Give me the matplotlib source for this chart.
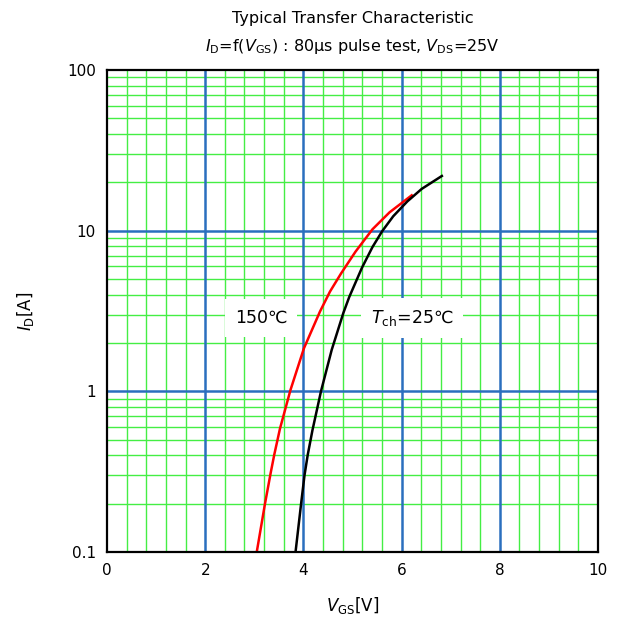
import numpy as np
import matplotlib
matplotlib.use("Agg")
import matplotlib.pyplot as plt

# data
vgs_25 = [3.84, 3.955, 4.023, 4.088, 4.185, 4.358, 4.576, 4.813, 4.933, 5.194, 5.407, 5.605, 5.830, 6.116, 6.41, 6.82]
id_25 = [0.1, 0.202, 0.301, 0.402, 0.574, 1.0, 1.81, 3.07, 3.86, 5.89, 7.91, 9.93, 12.3, 15.2, 18.2, 21.9]
vgs_150 = [3.05, 3.218, 3.334, 3.407, 3.523, 3.737, 4.01, 4.338, 4.542, 4.766, 5.061, 5.407, 5.754, 6.206]
id_150 = [0.1, 0.200, 0.311, 0.404, 0.586, 1.02, 1.85, 3.14, 4.18, 5.41, 7.40, 10.2, 13.0, 16.6]
x_ticks = [0, 2, 4, 6, 8, 10]
y_ticks = [0.1, 1, 10, 100]
y_tick_labels = ["0.1", "1", "10", "100"]

fig = plt.figure(figsize=(6.19, 6.32), dpi=100)
ax = fig.add_axes([107/619, 1-552/632, (598-107)/619, (552-70)/632])
ax.set_yscale("log")
ax.set_xlim(0, 10)
ax.set_ylim(0.1, 100)

green = "#44ee44"
blue = "#2a6fbe"
# minor grid
for xv in np.arange(0.4, 10, 0.4):
    if abs(xv / 2 - round(xv / 2)) > 1e-6:
        ax.axvline(xv, color=green, lw=1.0, zorder=1)
for dec in [0.1, 1, 10]:
    for m in range(2, 10):
        ax.axhline(dec * m, color=green, lw=1.0, zorder=1)
for xv in [2, 4, 6, 8]:
    ax.axvline(xv, color=blue, lw=1.8, zorder=2)
for yv in [1, 10]:
    ax.axhline(yv, color=blue, lw=1.8, zorder=2)

ax.plot(vgs_150, id_150, color="#ff0000", lw=1.8, zorder=4, solid_joinstyle="round")
ax.plot(vgs_25, id_25, color="black", lw=1.8, zorder=4, solid_joinstyle="round")

ax.text(3.14, 2.86, "150℃", fontsize=12.5, ha="center", va="center", zorder=3,
        bbox=dict(facecolor="white", edgecolor="none", pad=7))
ax.text(6.21, 2.86, r"$\mathit{T}_{\mathrm{ch}}$=25℃", fontsize=12.5, ha="center", va="center", zorder=3,
        bbox=dict(facecolor="white", edgecolor="none", pad=7))

ax.set_xticks(x_ticks)
ax.set_xticklabels([str(t) for t in x_ticks], fontsize=11)
ax.set_yticks(y_ticks)
ax.set_yticklabels(y_tick_labels, fontsize=11)
ax.yaxis.set_minor_locator(matplotlib.ticker.NullLocator())
ax.tick_params(length=0, pad=8)
for s in ax.spines.values():
    s.set_linewidth(1.6)
    s.set_color("black")
    s.set_zorder(5)

ax.set_xlabel(r"$\mathit{V}_{\mathrm{GS}}$[V]", fontsize=12, labelpad=12)
ax.set_ylabel(r"$\mathit{I}_{\mathrm{D}}$[A]", fontsize=12, labelpad=22)

fig.text(352.5/619, 1-18/632, "Typical Transfer Characteristic", fontsize=11.5, ha="center", va="center")
fig.text(352.5/619, 1-47/632, r"$\mathit{I}_{\mathrm{D}}$=f($\mathit{V}_{\mathrm{GS}}$) : 80μs pulse test, $\mathit{V}_{\mathrm{DS}}$=25V",
         fontsize=11.5, ha="center", va="center")

fig.savefig("out.png", dpi=100)
